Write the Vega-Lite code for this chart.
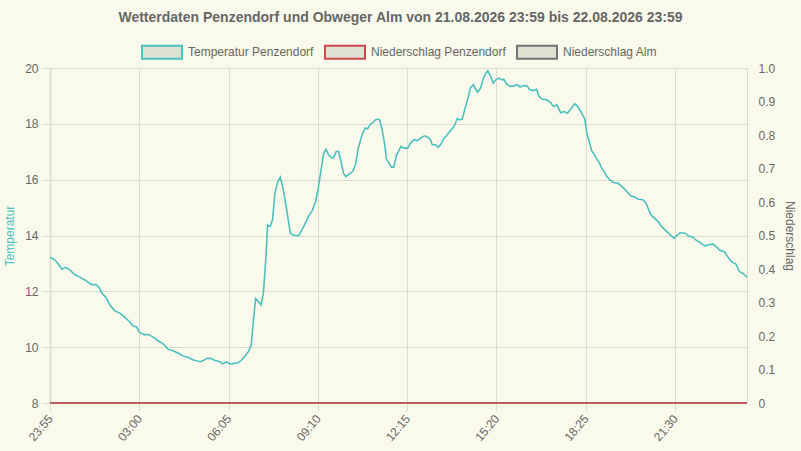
{
  "$schema": "https://vega.github.io/schema/vega-lite/v6.json",
  "description": "Wetterdaten Penzendorf und Obweger Alm",
  "width": 697,
  "height": 335,
  "autosize": {"type": "none"},
  "padding": {"left": 50, "top": 68, "right": 54, "bottom": 48},
  "background": "#fafaec",
  "title": {
    "text": "Wetterdaten Penzendorf und Obweger Alm von 21.08.2026 23:59 bis 22.08.2026 23:59",
    "fontSize": 14,
    "fontWeight": "bold",
    "color": "#666666",
    "anchor": "middle",
    "offset": 6,
    "dx": 2
  },
  "config": {
    "font": "Liberation Sans",
    "view": {"stroke": null},
    "axis": {
      "labelFont": "Liberation Sans",
      "labelFontSize": 12,
      "labelColor": "#666666",
      "titleFont": "Liberation Sans",
      "titleFontSize": 12,
      "titleFontWeight": "normal",
      "gridColor": "#dcdccc",
      "tickColor": "#dcdccc",
      "domainColor": "#dcdccc"
    }
  },
  "datasets": {
    "niederschlag": [
      {"zeit": "2026-08-21T23:55", "serie": "Niederschlag Alm", "mm": 0},
      {"zeit": "2026-08-22T23:59", "serie": "Niederschlag Alm", "mm": 0},
      {"zeit": "2026-08-21T23:55", "serie": "Niederschlag Penzendorf", "mm": 0},
      {"zeit": "2026-08-22T23:59", "serie": "Niederschlag Penzendorf", "mm": 0}
    ],
    "temperatur": [
      {"zeit": "2026-08-21T23:55", "temp": 13.22},
      {"zeit": "2026-08-22T00:05", "temp": 13.13},
      {"zeit": "2026-08-22T00:12", "temp": 12.98},
      {"zeit": "2026-08-22T00:20", "temp": 12.79},
      {"zeit": "2026-08-22T00:27", "temp": 12.86},
      {"zeit": "2026-08-22T00:36", "temp": 12.77},
      {"zeit": "2026-08-22T00:46", "temp": 12.60},
      {"zeit": "2026-08-22T00:57", "temp": 12.51},
      {"zeit": "2026-08-22T01:07", "temp": 12.41},
      {"zeit": "2026-08-22T01:21", "temp": 12.24},
      {"zeit": "2026-08-22T01:31", "temp": 12.24},
      {"zeit": "2026-08-22T01:38", "temp": 12.11},
      {"zeit": "2026-08-22T01:42", "temp": 11.95},
      {"zeit": "2026-08-22T01:52", "temp": 11.75},
      {"zeit": "2026-08-22T01:59", "temp": 11.51},
      {"zeit": "2026-08-22T02:09", "temp": 11.30},
      {"zeit": "2026-08-22T02:20", "temp": 11.22},
      {"zeit": "2026-08-22T02:30", "temp": 11.07},
      {"zeit": "2026-08-22T02:40", "temp": 10.91},
      {"zeit": "2026-08-22T02:47", "temp": 10.76},
      {"zeit": "2026-08-22T02:54", "temp": 10.73},
      {"zeit": "2026-08-22T03:01", "temp": 10.52},
      {"zeit": "2026-08-22T03:12", "temp": 10.44},
      {"zeit": "2026-08-22T03:18", "temp": 10.46},
      {"zeit": "2026-08-22T03:29", "temp": 10.36},
      {"zeit": "2026-08-22T03:39", "temp": 10.23},
      {"zeit": "2026-08-22T03:50", "temp": 10.11},
      {"zeit": "2026-08-22T04:00", "temp": 9.92},
      {"zeit": "2026-08-22T04:10", "temp": 9.87},
      {"zeit": "2026-08-22T04:21", "temp": 9.78},
      {"zeit": "2026-08-22T04:31", "temp": 9.68},
      {"zeit": "2026-08-22T04:41", "temp": 9.64},
      {"zeit": "2026-08-22T04:52", "temp": 9.54},
      {"zeit": "2026-08-22T05:06", "temp": 9.48},
      {"zeit": "2026-08-22T05:13", "temp": 9.52},
      {"zeit": "2026-08-22T05:20", "temp": 9.60},
      {"zeit": "2026-08-22T05:27", "temp": 9.60},
      {"zeit": "2026-08-22T05:37", "temp": 9.52},
      {"zeit": "2026-08-22T05:47", "temp": 9.48},
      {"zeit": "2026-08-22T05:52", "temp": 9.40},
      {"zeit": "2026-08-22T06:01", "temp": 9.47},
      {"zeit": "2026-08-22T06:08", "temp": 9.40},
      {"zeit": "2026-08-22T06:17", "temp": 9.42},
      {"zeit": "2026-08-22T06:25", "temp": 9.44},
      {"zeit": "2026-08-22T06:32", "temp": 9.54},
      {"zeit": "2026-08-22T06:39", "temp": 9.68},
      {"zeit": "2026-08-22T06:46", "temp": 9.84},
      {"zeit": "2026-08-22T06:52", "temp": 10.08},
      {"zeit": "2026-08-22T06:56", "temp": 10.86},
      {"zeit": "2026-08-22T07:01", "temp": 11.75},
      {"zeit": "2026-08-22T07:07", "temp": 11.63},
      {"zeit": "2026-08-22T07:12", "temp": 11.51},
      {"zeit": "2026-08-22T07:17", "temp": 11.93},
      {"zeit": "2026-08-22T07:22", "temp": 13.13},
      {"zeit": "2026-08-22T07:26", "temp": 14.38},
      {"zeit": "2026-08-22T07:31", "temp": 14.32},
      {"zeit": "2026-08-22T07:36", "temp": 14.56},
      {"zeit": "2026-08-22T07:41", "temp": 15.52},
      {"zeit": "2026-08-22T07:47", "temp": 15.93},
      {"zeit": "2026-08-22T07:52", "temp": 16.09},
      {"zeit": "2026-08-22T07:57", "temp": 15.75},
      {"zeit": "2026-08-22T08:02", "temp": 15.28},
      {"zeit": "2026-08-22T08:08", "temp": 14.62},
      {"zeit": "2026-08-22T08:13", "temp": 14.08},
      {"zeit": "2026-08-22T08:20", "temp": 14.01},
      {"zeit": "2026-08-22T08:27", "temp": 13.99},
      {"zeit": "2026-08-22T08:31", "temp": 14.01},
      {"zeit": "2026-08-22T08:37", "temp": 14.20},
      {"zeit": "2026-08-22T08:44", "temp": 14.44},
      {"zeit": "2026-08-22T08:51", "temp": 14.70},
      {"zeit": "2026-08-22T08:59", "temp": 14.92},
      {"zeit": "2026-08-22T09:05", "temp": 15.21},
      {"zeit": "2026-08-22T09:10", "temp": 15.63},
      {"zeit": "2026-08-22T09:15", "temp": 16.17},
      {"zeit": "2026-08-22T09:22", "temp": 16.95},
      {"zeit": "2026-08-22T09:27", "temp": 17.09},
      {"zeit": "2026-08-22T09:32", "temp": 16.89},
      {"zeit": "2026-08-22T09:38", "temp": 16.79},
      {"zeit": "2026-08-22T09:42", "temp": 16.77},
      {"zeit": "2026-08-22T09:48", "temp": 17.01},
      {"zeit": "2026-08-22T09:53", "temp": 17.01},
      {"zeit": "2026-08-22T09:58", "temp": 16.65},
      {"zeit": "2026-08-22T10:03", "temp": 16.23},
      {"zeit": "2026-08-22T10:08", "temp": 16.11},
      {"zeit": "2026-08-22T10:15", "temp": 16.20},
      {"zeit": "2026-08-22T10:22", "temp": 16.29},
      {"zeit": "2026-08-22T10:28", "temp": 16.53},
      {"zeit": "2026-08-22T10:33", "temp": 17.07},
      {"zeit": "2026-08-22T10:38", "temp": 17.40},
      {"zeit": "2026-08-22T10:43", "temp": 17.67},
      {"zeit": "2026-08-22T10:48", "temp": 17.85},
      {"zeit": "2026-08-22T10:53", "temp": 17.82},
      {"zeit": "2026-08-22T10:59", "temp": 18.00},
      {"zeit": "2026-08-22T11:04", "temp": 18.04},
      {"zeit": "2026-08-22T11:09", "temp": 18.14},
      {"zeit": "2026-08-22T11:14", "temp": 18.17},
      {"zeit": "2026-08-22T11:18", "temp": 18.14},
      {"zeit": "2026-08-22T11:23", "temp": 17.79},
      {"zeit": "2026-08-22T11:28", "temp": 17.31},
      {"zeit": "2026-08-22T11:32", "temp": 16.73},
      {"zeit": "2026-08-22T11:37", "temp": 16.61},
      {"zeit": "2026-08-22T11:42", "temp": 16.45},
      {"zeit": "2026-08-22T11:47", "temp": 16.45},
      {"zeit": "2026-08-22T11:53", "temp": 16.89},
      {"zeit": "2026-08-22T11:57", "temp": 17.01},
      {"zeit": "2026-08-22T12:02", "temp": 17.19},
      {"zeit": "2026-08-22T12:08", "temp": 17.13},
      {"zeit": "2026-08-22T12:16", "temp": 17.13},
      {"zeit": "2026-08-22T12:22", "temp": 17.31},
      {"zeit": "2026-08-22T12:29", "temp": 17.43},
      {"zeit": "2026-08-22T12:37", "temp": 17.40},
      {"zeit": "2026-08-22T12:42", "temp": 17.49},
      {"zeit": "2026-08-22T12:51", "temp": 17.57},
      {"zeit": "2026-08-22T12:58", "temp": 17.52},
      {"zeit": "2026-08-22T13:03", "temp": 17.43},
      {"zeit": "2026-08-22T13:07", "temp": 17.25},
      {"zeit": "2026-08-22T13:14", "temp": 17.25},
      {"zeit": "2026-08-22T13:19", "temp": 17.16},
      {"zeit": "2026-08-22T13:24", "temp": 17.25},
      {"zeit": "2026-08-22T13:30", "temp": 17.45},
      {"zeit": "2026-08-22T13:36", "temp": 17.57},
      {"zeit": "2026-08-22T13:45", "temp": 17.76},
      {"zeit": "2026-08-22T13:52", "temp": 17.90},
      {"zeit": "2026-08-22T13:59", "temp": 18.20},
      {"zeit": "2026-08-22T14:03", "temp": 18.14},
      {"zeit": "2026-08-22T14:09", "temp": 18.17},
      {"zeit": "2026-08-22T14:14", "temp": 18.50},
      {"zeit": "2026-08-22T14:21", "temp": 18.92},
      {"zeit": "2026-08-22T14:26", "temp": 19.28},
      {"zeit": "2026-08-22T14:32", "temp": 19.40},
      {"zeit": "2026-08-22T14:37", "temp": 19.24},
      {"zeit": "2026-08-22T14:41", "temp": 19.14},
      {"zeit": "2026-08-22T14:47", "temp": 19.28},
      {"zeit": "2026-08-22T14:53", "temp": 19.64},
      {"zeit": "2026-08-22T14:57", "temp": 19.79},
      {"zeit": "2026-08-22T15:02", "temp": 19.90},
      {"zeit": "2026-08-22T15:08", "temp": 19.70},
      {"zeit": "2026-08-22T15:13", "temp": 19.46},
      {"zeit": "2026-08-22T15:18", "temp": 19.57},
      {"zeit": "2026-08-22T15:25", "temp": 19.64},
      {"zeit": "2026-08-22T15:32", "temp": 19.57},
      {"zeit": "2026-08-22T15:35", "temp": 19.60},
      {"zeit": "2026-08-22T15:41", "temp": 19.43},
      {"zeit": "2026-08-22T15:48", "temp": 19.34},
      {"zeit": "2026-08-22T15:56", "temp": 19.36},
      {"zeit": "2026-08-22T16:03", "temp": 19.40},
      {"zeit": "2026-08-22T16:09", "temp": 19.32},
      {"zeit": "2026-08-22T16:16", "temp": 19.37},
      {"zeit": "2026-08-22T16:23", "temp": 19.36},
      {"zeit": "2026-08-22T16:29", "temp": 19.22},
      {"zeit": "2026-08-22T16:36", "temp": 19.19},
      {"zeit": "2026-08-22T16:43", "temp": 19.24},
      {"zeit": "2026-08-22T16:48", "temp": 18.98},
      {"zeit": "2026-08-22T16:55", "temp": 18.88},
      {"zeit": "2026-08-22T17:04", "temp": 18.86},
      {"zeit": "2026-08-22T17:12", "temp": 18.76},
      {"zeit": "2026-08-22T17:18", "temp": 18.62},
      {"zeit": "2026-08-22T17:25", "temp": 18.68},
      {"zeit": "2026-08-22T17:33", "temp": 18.40},
      {"zeit": "2026-08-22T17:40", "temp": 18.44},
      {"zeit": "2026-08-22T17:47", "temp": 18.38},
      {"zeit": "2026-08-22T17:55", "temp": 18.56},
      {"zeit": "2026-08-22T18:02", "temp": 18.72},
      {"zeit": "2026-08-22T18:09", "temp": 18.60},
      {"zeit": "2026-08-22T18:16", "temp": 18.40},
      {"zeit": "2026-08-22T18:23", "temp": 18.17},
      {"zeit": "2026-08-22T18:27", "temp": 17.67},
      {"zeit": "2026-08-22T18:32", "temp": 17.37},
      {"zeit": "2026-08-22T18:37", "temp": 17.04},
      {"zeit": "2026-08-22T18:42", "temp": 16.92},
      {"zeit": "2026-08-22T18:48", "temp": 16.73},
      {"zeit": "2026-08-22T18:53", "temp": 16.61},
      {"zeit": "2026-08-22T18:58", "temp": 16.41},
      {"zeit": "2026-08-22T19:03", "temp": 16.29},
      {"zeit": "2026-08-22T19:09", "temp": 16.11},
      {"zeit": "2026-08-22T19:15", "temp": 15.99},
      {"zeit": "2026-08-22T19:22", "temp": 15.90},
      {"zeit": "2026-08-22T19:32", "temp": 15.87},
      {"zeit": "2026-08-22T19:38", "temp": 15.78},
      {"zeit": "2026-08-22T19:44", "temp": 15.69},
      {"zeit": "2026-08-22T19:52", "temp": 15.54},
      {"zeit": "2026-08-22T19:58", "temp": 15.42},
      {"zeit": "2026-08-22T20:07", "temp": 15.37},
      {"zeit": "2026-08-22T20:14", "temp": 15.30},
      {"zeit": "2026-08-22T20:23", "temp": 15.28},
      {"zeit": "2026-08-22T20:30", "temp": 15.16},
      {"zeit": "2026-08-22T20:34", "temp": 14.98},
      {"zeit": "2026-08-22T20:40", "temp": 14.74},
      {"zeit": "2026-08-22T20:47", "temp": 14.62},
      {"zeit": "2026-08-22T20:55", "temp": 14.50},
      {"zeit": "2026-08-22T21:01", "temp": 14.34},
      {"zeit": "2026-08-22T21:09", "temp": 14.20},
      {"zeit": "2026-08-22T21:18", "temp": 14.06},
      {"zeit": "2026-08-22T21:28", "temp": 13.90},
      {"zeit": "2026-08-22T21:35", "temp": 14.02},
      {"zeit": "2026-08-22T21:41", "temp": 14.10},
      {"zeit": "2026-08-22T21:51", "temp": 14.08},
      {"zeit": "2026-08-22T21:57", "temp": 13.99},
      {"zeit": "2026-08-22T22:07", "temp": 13.94},
      {"zeit": "2026-08-22T22:13", "temp": 13.84},
      {"zeit": "2026-08-22T22:24", "temp": 13.72},
      {"zeit": "2026-08-22T22:32", "temp": 13.63},
      {"zeit": "2026-08-22T22:39", "temp": 13.66},
      {"zeit": "2026-08-22T22:48", "temp": 13.70},
      {"zeit": "2026-08-22T22:55", "temp": 13.60},
      {"zeit": "2026-08-22T23:02", "temp": 13.48},
      {"zeit": "2026-08-22T23:12", "temp": 13.42},
      {"zeit": "2026-08-22T23:19", "temp": 13.24},
      {"zeit": "2026-08-22T23:27", "temp": 13.06},
      {"zeit": "2026-08-22T23:36", "temp": 12.98},
      {"zeit": "2026-08-22T23:43", "temp": 12.71},
      {"zeit": "2026-08-22T23:50", "temp": 12.65},
      {"zeit": "2026-08-22T23:59", "temp": 12.51}
    ]
  },
  "layer": [
    {
      "data": {"name": "niederschlag"},
      "mark": {"type": "line", "strokeWidth": 1.5},
      "encoding": {
        "x": {"field": "zeit", "type": "temporal"},
        "y": {
          "field": "mm",
          "type": "quantitative",
          "scale": {"domain": [0, 1]},
          "axis": {
            "orient": "right",
            "title": "Niederschlag",
            "titleColor": "#666666",
            "titlePadding": 8,
            "values": [0, 0.1, 0.2, 0.3, 0.4, 0.5, 0.6, 0.7, 0.8, 0.9, 1],
            "labelExpr": "datum.value == 0 ? '0' : format(datum.value, '.1f')",
            "ticks": false,
            "grid": false,
            "labelPadding": 11
          }
        },
        "color": {"field": "serie", "type": "nominal", "title": null}
      }
    },
    {
      "data": {"name": "temperatur"},
      "mark": {"type": "line", "strokeWidth": 1.6},
      "encoding": {
        "x": {
          "field": "zeit",
          "type": "temporal",
          "scale": {
            "domain": [
              {"year": 2026, "month": 8, "date": 21, "hours": 23, "minutes": 55},
              {"year": 2026, "month": 8, "date": 22, "hours": 23, "minutes": 59}
            ]
          },
          "axis": {
            "title": null,
            "format": "%H:%M",
            "values": [
              {"year": 2026, "month": 8, "date": 21, "hours": 23, "minutes": 55},
              {"year": 2026, "month": 8, "date": 22, "hours": 3, "minutes": 0},
              {"year": 2026, "month": 8, "date": 22, "hours": 6, "minutes": 5},
              {"year": 2026, "month": 8, "date": 22, "hours": 9, "minutes": 10},
              {"year": 2026, "month": 8, "date": 22, "hours": 12, "minutes": 15},
              {"year": 2026, "month": 8, "date": 22, "hours": 15, "minutes": 20},
              {"year": 2026, "month": 8, "date": 22, "hours": 18, "minutes": 25},
              {"year": 2026, "month": 8, "date": 22, "hours": 21, "minutes": 30}
            ],
            "labelAngle": -50,
            "labelPadding": 5,
            "tickSize": 8,
            "domain": false,
            "grid": true
          }
        },
        "y": {
          "field": "temp",
          "type": "quantitative",
          "scale": {"domain": [8, 20]},
          "axis": {
            "orient": "left",
            "title": "Temperatur",
            "titleColor": "#4bc0c0",
            "titlePadding": 8,
            "values": [8, 10, 12, 14, 16, 18, 20],
            "tickSize": 8,
            "labelPadding": 4,
            "grid": true,
            "domainWidth": 1.5
          }
        },
        "color": {
          "datum": "Temperatur Penzendorf",
          "type": "nominal",
          "scale": {
            "domain": ["Temperatur Penzendorf", "Niederschlag Penzendorf", "Niederschlag Alm"],
            "range": ["#4bc0c0", "#c94c4c", "#6e7676"]
          },
          "legend": {
            "title": null,
            "orient": "none",
            "legendX": 91,
            "legendY": -37,
            "direction": "horizontal",
            "padding": 0,
            "symbolType": "M-1,-0.325H1V0.325H-1Z",
            "symbolSize": 1600,
            "symbolStrokeWidth": 2,
            "symbolFillColor": "#e1e1d3",
            "labelFont": "Liberation Sans",
            "labelFontSize": 12,
            "labelColor": "#666666",
            "labelOffset": 5,
            "columnPadding": 7,
            "encode": {
              "symbols": {"update": {"fill": {"value": "#e1e1d3"}, "fillOpacity": {"value": 1}}}
            }
          }
        }
      }
    }
  ],
  "resolve": {"scale": {"y": "independent"}}
}
